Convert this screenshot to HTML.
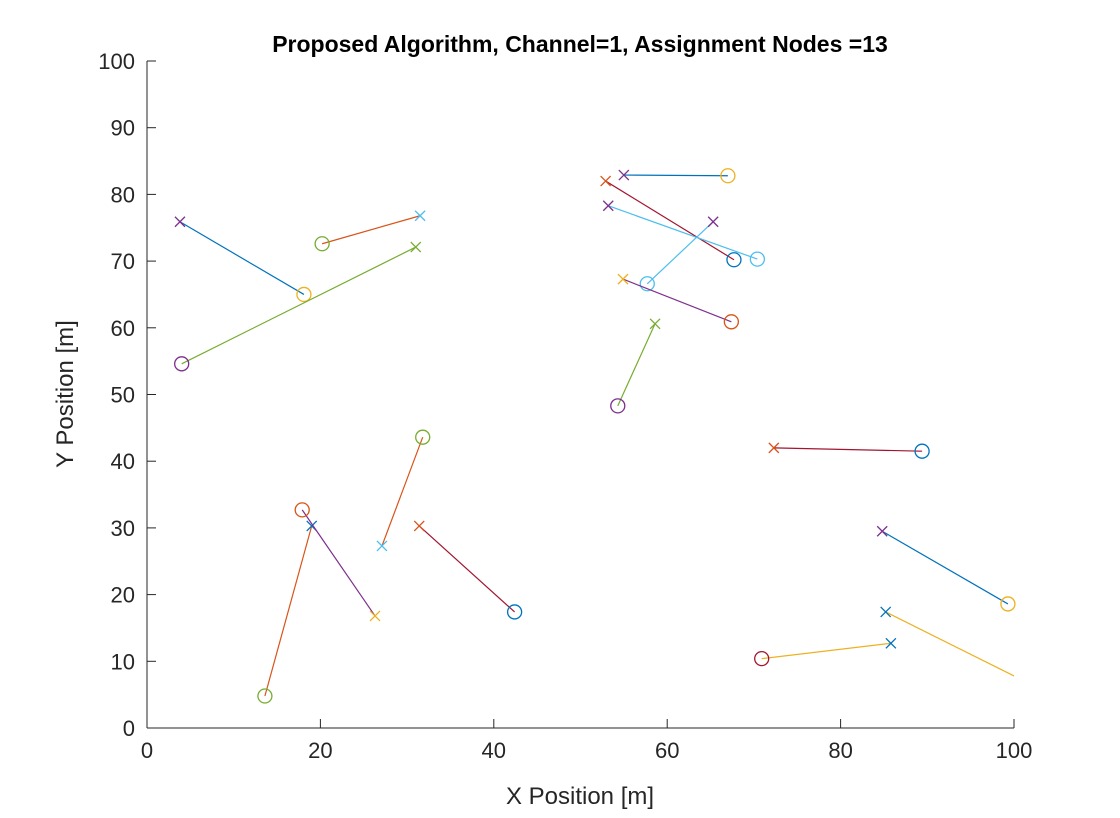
<!DOCTYPE html>
<html><head><meta charset="utf-8"><style>
body{margin:0;background:#fff;}
svg{display:block;font-family:"Liberation Sans",Arial,sans-serif;}
</style></head><body>
<svg id="chart" width="1120" height="818" viewBox="0 0 1120 818">
<rect width="1120" height="818" fill="#fff"/>
<text x="580" y="52" text-anchor="middle" font-size="23" font-weight="bold" fill="#000">Proposed Algorithm, Channel=1, Assignment Nodes =13</text>
<text x="580" y="804" text-anchor="middle" font-size="24" fill="#262626">X Position [m]</text>
<text x="0" y="0" transform="translate(73,394) rotate(-90)" text-anchor="middle" font-size="24" fill="#262626">Y Position [m]</text>
<g id="axes"></g>
<g id="marks"></g>
</svg>
<script>
const xTicks=[0,20,40,60,80,100];
const yTicks=[0,10,20,30,40,50,60,70,80,90,100];
const segX1=[3.8,31.5,31.0,55.0,52.9,53.2,65.3,54.9,58.6,72.3,84.8,85.2,85.8,31.4,27.1,19.0,26.3];
const segY1=[75.9,76.8,72.1,82.9,82.0,78.3,75.9,67.3,60.6,42.0,29.5,17.4,12.7,30.3,27.3,30.3,16.8];
const segX2=[18.1,20.2,4.0,67.0,67.7,70.4,57.7,67.4,54.3,89.4,99.3,100,70.9,42.4,31.8,13.6,17.9];
const segY2=[65.0,72.6,54.6,82.8,70.2,70.3,66.6,60.9,48.3,41.5,18.6,7.8,10.4,17.4,43.6,4.8,32.7];
const hasCircle=[1,1,1,1,1,1,1,1,1,1,1,0,1,1,1,1,1];
const C={b:'#0072BD',o:'#D95319',y:'#EDB120',p:'#7E2F8E',g:'#77AC30',c:'#4DBEEE',r:'#A2142F'};
const lineCol=['b','o','g','b','r','c','c','p','g','r','b','y','y','r','o','o','p'];
const xCol=['p','c','g','p','o','p','p','y','g','o','p','b','b','o','c','b','y'];
const oCol=['y','g','p','y','b','c','c','o','p','b','y','y','r','b','g','g','o'];
const L=147,R=1014,T=61,B=728;
const sx=v=>L+(R-L)*v/100, sy=v=>B-(B-T)*v/100;
const NS='http://www.w3.org/2000/svg';
const ax=document.getElementById('axes'), mk=document.getElementById('marks');
function el(t,a,p){const e=document.createElementNS(NS,t);for(const k in a)e.setAttribute(k,a[k]);p.appendChild(e);return e;}
const xl=el('line',{x1:L,y1:B,x2:R,y2:B,stroke:'#262626','stroke-width':1},ax);


const yl=el('line',{x1:L,y1:T,x2:L,y2:B,stroke:'#262626','stroke-width':1},ax);


xTicks.forEach(v=>{
 const t=el('line',{x1:sx(v),y1:B,x2:sx(v),y2:B-9,stroke:'#262626'},ax);
 
 
 const l=el('text',{x:sx(v),y:B+30,'text-anchor':'middle','font-size':22,fill:'#262626'},ax);l.textContent=v;
 
 
});
yTicks.forEach(v=>{
 const t=el('line',{x1:L,y1:sy(v),x2:L+9,y2:sy(v),stroke:'#262626'},ax);
 
 
 const l=el('text',{x:L-12,y:sy(v)+8,'text-anchor':'end','font-size':22,fill:'#262626'},ax);l.textContent=v;
 
 
});
for(let i=0;i<segX1.length;i++){
 const x1=sx(segX1[i]),y1=sy(segY1[i]),x2=sx(segX2[i]),y2=sy(segY2[i]);
 const ln=el('line',{x1:x1,y1:y1,x2:x2,y2:y2,stroke:C[lineCol[i]],'stroke-width':1.2},mk);
 
 
 const g=el('path',{d:`M${x1-5},${y1-5}L${x1+5},${y1+5}M${x1-5},${y1+5}L${x1+5},${y1-5}`,stroke:C[xCol[i]],'stroke-width':1.3,fill:'none'},mk);
 
 
 if(hasCircle[i]){
  const c=el('circle',{cx:x2,cy:y2,r:7,stroke:C[oCol[i]],'stroke-width':1.3,fill:'none'},mk);
  
  
 }
}
</script>
</body></html>
